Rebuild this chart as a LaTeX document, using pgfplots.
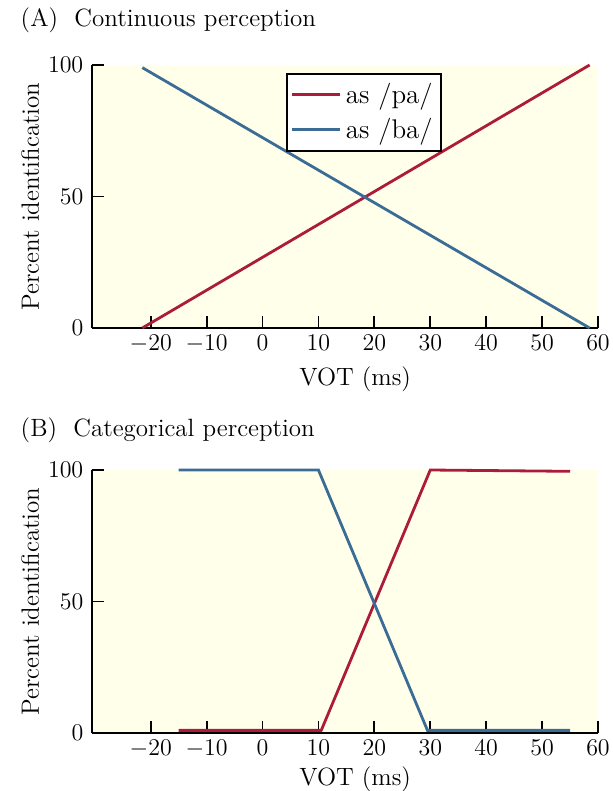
\documentclass[border=0pt]{standalone}
\usepackage{pgfplots}
\pgfplotsset{compat=1.18}
\definecolor{pared}{RGB}{172,28,58}
\definecolor{bablue}{RGB}{58,108,150}
\definecolor{bgyel}{RGB}{255,255,234}
\begin{document}
\fontsize{12.5}{15}\selectfont
\begin{tikzpicture}
\useasboundingbox (0,0) rectangle (306.5pt,-395.5pt);
\pgfplotsset{
  myaxis/.style={
    scale only axis, width=253pt, height=131.5pt,
    xmin=-30.5, xmax=60, ymin=0, ymax=100,
    axis x line*=bottom, axis y line*=left,
    axis line style={-, line width=0.9pt},
    xtick={-20,-10,0,10,20,30,40,50,60}, ytick={0,50,100},
    tick align=inside, major tick length=6pt,
    every tick/.style={black, line width=0.9pt},
    xlabel={VOT (ms)}, ylabel={Percent identification},
    ylabel style={at={(axis description cs:-0.122,0.5)}, anchor=center},
    axis background/.style={fill=bgyel},
    tick label style={font=\fontsize{13}{15}\selectfont},
    xticklabel style={yshift=1pt},
    label style={font=\fontsize{12.5}{15}\selectfont},
    clip=false,
  }
}
\node[anchor=west] at (6pt,-10pt) {(A)\ \ Continuous perception};
\begin{axis}[myaxis, at={(46pt,-164pt)}, anchor=south west,
  xlabel style={at={(axis description cs:0.52,0)}, anchor=center, yshift=-25.5pt},
  legend style={at={(rel axis cs:0.383,0.97)}, anchor=north west, draw=black,
    line width=0.9pt, fill=white, font=\fontsize{13.5}{16}\selectfont,
    inner xsep=2pt, inner ysep=2.5pt, row sep=1.5pt},
  legend cell align=left,
  legend image code/.code={\draw[#1] (0cm,0cm) -- (0.85cm,0cm);}]
\addplot[pared, line width=1.4pt] coordinates {(-21.5,0) (58.5,100)};
\addlegendentry{as /pa/}
\addplot[bablue, line width=1.4pt] coordinates {(-21.5,99) (58.5,0)};
\addlegendentry{as /ba/}
\end{axis}
\node[anchor=west] at (6pt,-215pt) {(B)\ \ Categorical perception};
\begin{axis}[myaxis, at={(46pt,-366.5pt)}, anchor=south west,
  xlabel style={at={(axis description cs:0.52,0)}, anchor=center, yshift=-23pt}]
\addplot[pared, line width=1.4pt] coordinates {(-15,1) (10.5,1) (30,100) (55,99.5)};
\addplot[bablue, line width=1.4pt] coordinates {(-15,100) (10,100) (29.5,1) (55,1)};
\end{axis}
\end{tikzpicture}
\end{document}
